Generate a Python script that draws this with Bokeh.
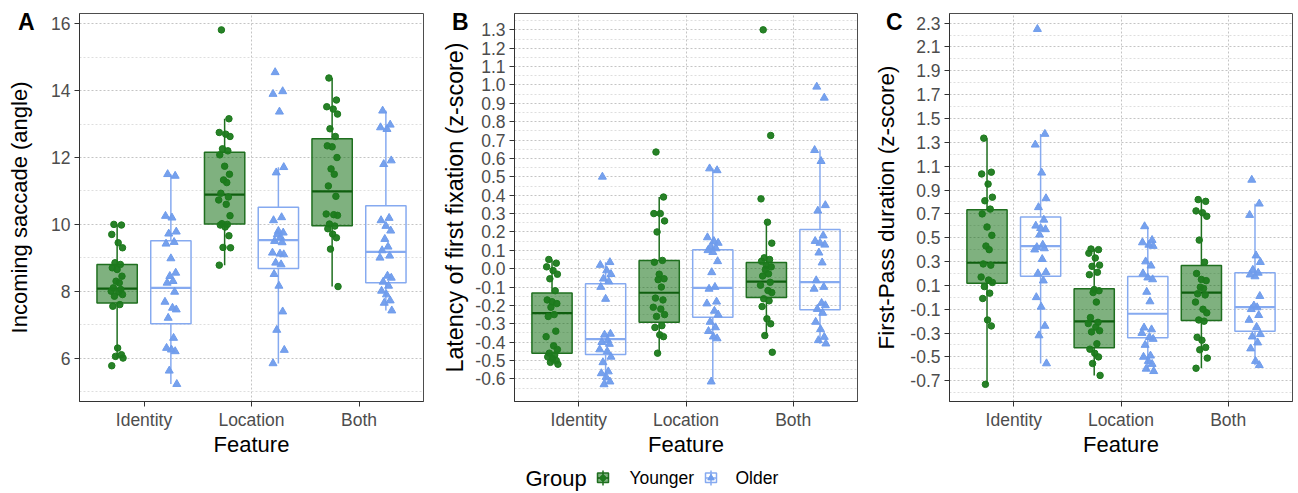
import numpy as np
from bokeh.plotting import figure
from bokeh.models import Range1d, FixedTicker, NumeralTickFormatter, ColumnDataSource, LinearAxis
from bokeh.layouts import column, row
from bokeh.embed import file_html
from bokeh.resources import INLINE
from bokeh.core.properties import value

FEATURES = ["Identity", "Location", "Both"]
GROUPS = ["Younger", "Older"]

# ---------------- Panel A: Incoming saccade (angle) ----------------
A_Y_ID = [10.0, 9.98, 9.7, 9.45, 9.3, 8.85, 8.8, 8.7, 8.65, 8.45, 8.3, 8.25, 8.1, 8.05, 8.0, 7.98, 7.9, 7.85, 7.6, 7.55, 6.3, 6.1, 6.05, 6.0, 5.77]
A_O_ID = [11.5, 11.45, 10.25, 10.2, 9.78, 9.72, 9.47, 9.42, 8.98, 8.55, 8.45, 8.3, 8.25, 7.98, 7.68, 7.5, 7.45, 7.2, 6.6, 6.3, 6.25, 6.2, 5.62, 5.22]
A_Y_LOC = [15.82, 13.16, 12.75, 12.7, 12.63, 12.26, 12.2, 12.08, 11.74, 11.5, 11.33, 11.25, 10.93, 10.82, 10.73, 10.6, 10.26, 10.02, 10.0, 9.98, 9.92, 9.66, 9.31, 9.3, 8.78]
A_O_LOC = [14.55, 13.98, 13.9, 13.37, 11.71, 11.55, 10.21, 10.12, 9.8, 9.75, 9.7, 9.62, 9.5, 9.46, 9.15, 9.12, 9.1, 8.85, 8.8, 8.51, 8.16, 7.39, 6.84, 6.24, 5.84]
A_Y_BOTH = [14.38, 13.72, 13.52, 13.45, 13.3, 12.86, 12.63, 12.35, 12.32, 12.0, 11.66, 11.5, 11.15, 10.84, 10.31, 10.29, 10.27, 10.01, 9.95, 9.87, 9.71, 9.6, 9.26, 8.14]
A_O_BOTH = [13.4, 12.98, 12.9, 12.85, 11.91, 11.8, 10.19, 10.12, 9.95, 9.81, 9.56, 9.33, 9.22, 9.06, 9.0, 8.46, 8.4, 8.28, 8.16, 8.01, 7.9, 7.72, 7.65, 7.42]
A_Y_Q1 = [7.65, 10.01, 9.96]
A_Y_MED = [8.08, 10.89, 10.99]
A_Y_Q3 = [8.8, 12.16, 12.56]
A_Y_LO = [6.0, 8.78, 8.14]
A_Y_HI = [10.0, 13.16, 14.38]
A_O_Q1 = [7.03, 8.68, 8.25]
A_O_MED = [8.1, 9.53, 9.18]
A_O_Q3 = [9.51, 10.51, 10.56]
A_O_LO = [5.22, 5.84, 7.42]
A_O_HI = [11.5, 11.71, 13.4]
A_TICKS = [6, 8, 10, 12, 14, 16]
A_MINOR = [5, 7, 9, 11, 13, 15]

# ---------------- Panel B: Latency of first fixation ----------------
B_Y_ID = [0.05, 0.03, 0.01, -0.01, -0.03, -0.055, -0.12, -0.17, -0.18, -0.19, -0.21, -0.25, -0.26, -0.34, -0.37, -0.42, -0.44, -0.46, -0.47, -0.48, -0.49, -0.5, -0.51, -0.52]
B_O_ID = [0.5, 0.035, 0.02, -0.01, -0.03, -0.055, -0.07, -0.1, -0.165, -0.355, -0.36, -0.39, -0.4, -0.41, -0.44, -0.45, -0.48, -0.51, -0.56, -0.57, -0.59, -0.615, -0.63]
B_Y_LOC = [0.635, 0.39, 0.3, 0.3, 0.26, 0.2, 0.045, 0.035, -0.03, -0.055, -0.06, -0.1, -0.16, -0.17, -0.21, -0.22, -0.25, -0.26, -0.31, -0.32, -0.36, -0.37, -0.46]
B_O_LOC = [0.545, 0.535, 0.17, 0.15, 0.14, 0.12, 0.11, 0.1, 0.09, 0.04, -0.02, -0.1, -0.11, -0.18, -0.19, -0.23, -0.25, -0.29, -0.32, -0.34, -0.37, -0.38, -0.615]
B_Y_BOTH = [1.3, 0.725, 0.38, 0.253, 0.139, 0.059, 0.05, 0.04, 0.017, 0.01, -0.005, -0.028, -0.04, -0.074, -0.09, -0.119, -0.13, -0.164, -0.175, -0.206, -0.273, -0.3, -0.364, -0.455]
B_O_BOTH = [0.99, 0.93, 0.645, 0.585, 0.345, 0.315, 0.18, 0.15, 0.14, 0.13, 0.087, 0.033, -0.064, -0.1, -0.11, -0.187, -0.2, -0.22, -0.241, -0.29, -0.33, -0.372, -0.39, -0.408]
B_Y_Q1 = [-0.46, -0.291, -0.157]
B_Y_MED = [-0.242, -0.131, -0.071]
B_Y_Q3 = [-0.133, 0.044, 0.034]
B_Y_LO = [-0.52, -0.46, -0.364]
B_Y_HI = [0.05, 0.39, 0.253]
B_O_Q1 = [-0.467, -0.264, -0.224]
B_O_MED = [-0.384, -0.104, -0.073]
B_O_Q3 = [-0.082, 0.103, 0.213]
B_O_LO = [-0.63, -0.615, -0.408]
B_O_HI = [0.035, 0.545, 0.645]
B_TICKS = [-0.6, -0.5, -0.4, -0.3, -0.2, -0.1, 0.0, 0.1, 0.2, 0.3, 0.4, 0.5, 0.6, 0.7, 0.8, 0.9, 1.0, 1.1, 1.2, 1.3]
B_MINOR = [-0.65, -0.55, -0.45, -0.35, -0.25, -0.15, -0.05, 0.05, 0.15, 0.25, 0.35, 0.45, 0.55, 0.65, 0.75, 0.85, 0.95, 1.05, 1.15, 1.25, 1.35]

# ---------------- Panel C: First-Pass duration ----------------
C_Y_ID = [1.335, 1.05, 1.035, 0.95, 0.84, 0.81, 0.74, 0.7, 0.59, 0.52, 0.43, 0.4, 0.28, 0.27, 0.17, 0.145, 0.125, 0.09, 0.035, -0.01, -0.19, -0.24, -0.73]
C_O_ID = [2.25, 1.37, 1.28, 1.045, 0.83, 0.755, 0.65, 0.6, 0.58, 0.57, 0.525, 0.44, 0.42, 0.41, 0.4, 0.32, 0.21, 0.2, 0.14, 0.0, -0.08, -0.24, -0.32, -0.555]
C_Y_LOC = [0.405, 0.4, 0.37, 0.33, 0.27, 0.26, 0.21, 0.19, 0.065, 0.055, 0.04, -0.04, -0.17, -0.21, -0.22, -0.25, -0.28, -0.29, -0.39, -0.435, -0.47, -0.5, -0.555, -0.655]
C_O_LOC = [0.595, 0.48, 0.46, 0.44, 0.43, 0.3, 0.265, 0.2, 0.165, 0.15, 0.045, -0.035, -0.255, -0.27, -0.3, -0.335, -0.35, -0.4, -0.49, -0.5, -0.535, -0.56, -0.6, -0.62]
C_Y_BOTH = [0.82, 0.805, 0.725, 0.71, 0.68, 0.48, 0.295, 0.2, 0.15, 0.14, 0.085, 0.075, 0.03, 0.02, -0.04, -0.1, -0.13, -0.19, -0.2, -0.335, -0.36, -0.42, -0.44, -0.51, -0.595]
C_O_BOTH = [0.985, 0.785, 0.69, 0.35, 0.295, 0.23, 0.205, 0.19, 0.175, 0.01, -0.07, -0.085, -0.1, -0.15, -0.19, -0.25, -0.31, -0.33, -0.38, -0.43, -0.535, -0.57]
C_Y_Q1 = [0.119, -0.423, -0.195]
C_Y_MED = [0.29, -0.202, 0.039]
C_Y_Q3 = [0.735, 0.072, 0.266]
C_Y_LO = [-0.73, -0.655, -0.595]
C_Y_HI = [1.335, 0.405, 0.82]
C_O_Q1 = [0.177, -0.339, -0.284]
C_O_MED = [0.429, -0.138, -0.083]
C_O_Q3 = [0.673, 0.175, 0.206]
C_O_LO = [-0.555, -0.62, -0.57]
C_O_HI = [1.37, 0.595, 0.785]
C_TICKS = [-0.7, -0.5, -0.3, -0.1, 0.1, 0.3, 0.5, 0.7, 0.9, 1.1, 1.3, 1.5, 1.7, 1.9, 2.1, 2.3]
C_MINOR = [-0.8, -0.6, -0.4, -0.2, 0.0, 0.2, 0.4, 0.6, 0.8, 1.0, 1.2, 1.4, 1.6, 1.8, 2.0, 2.2]

# deterministic horizontal jitter pattern (visual spread only)
JITTER = [-0.03, 0.04, -0.05, 0.01, 0.05, -0.02, 0.03, -0.045, 0.0, 0.045, -0.01, 0.02,
          -0.035, 0.035, -0.055, 0.015, 0.05, -0.025, 0.025, -0.04, 0.005, 0.04, -0.015, 0.055, -0.05]

FONT = "Liberation Sans"
GREEN_PT = "#1c7a1c"
GREEN_LINE = "#1f6f1f"
BLUE_PT = "#6f9cec"
BLUE_LINE = "#86aaf0"
DODGE = 0.25
BOXW = 0.375


def add_group(p, series, q1, med, q3, lo, hi, offset, kind):
    xs = [i + 1 + offset for i in range(3)]
    lc = GREEN_LINE if kind == "y" else BLUE_LINE
    p.segment(x0=xs, x1=xs, y0=q3, y1=hi, line_color=lc, line_width=1.5)
    p.segment(x0=xs, x1=xs, y0=lo, y1=q1, line_color=lc, line_width=1.5)
    if kind == "y":
        p.quad(left=[x - BOXW / 2 for x in xs], right=[x + BOXW / 2 for x in xs], bottom=q1, top=q3,
               fill_color="#006400", fill_alpha=0.5, line_color=GREEN_LINE, line_width=1.5)
        p.segment(x0=[x - BOXW / 2 for x in xs], x1=[x + BOXW / 2 for x in xs], y0=med, y1=med,
                  line_color="#0f5f0f", line_width=2.2)
    else:
        p.quad(left=[x - BOXW / 2 for x in xs], right=[x + BOXW / 2 for x in xs], bottom=q1, top=q3,
               fill_color="white", fill_alpha=0.0, line_color=BLUE_LINE, line_width=1.5)
        p.segment(x0=[x - BOXW / 2 for x in xs], x1=[x + BOXW / 2 for x in xs], y0=med, y1=med,
                  line_color=BLUE_LINE, line_width=2.2)
    px, py = [], []
    for i, vals in enumerate(series):
        for j, v in enumerate(vals):
            px.append(i + 1 + offset + JITTER[j % len(JITTER)])
            py.append(v)
    src = ColumnDataSource(dict(x=px, y=py))
    if kind == "y":
        p.scatter("x", "y", source=src, marker="circle", size=6.5, fill_color=GREEN_PT,
                  line_color=GREEN_PT, fill_alpha=0.95)
    else:
        p.scatter("x", "y", source=src, marker="triangle", size=8, fill_color=BLUE_PT,
                  line_color=BLUE_PT, fill_alpha=0.95)


def make_panel(letter, letter_y, letter_standoff, ytitle, title_standoff, title_size, yr, ticks, minor, fmt,
               ys, os_, ystats, ostats, vgrid, width, mbl, mbr):
    p = figure(width=width, height=460, x_range=Range1d(0.4, 3.6), y_range=Range1d(*yr),
               output_backend="svg", toolbar_location=None,
               min_border_left=mbl, min_border_right=mbr, min_border_top=13, min_border_bottom=59)
    p.background_fill_color = "white"
    p.outline_line_color = "#4d4d4d"
    p.outline_line_width = 1

    p.xaxis.ticker = FixedTicker(ticks=[1, 2, 3])
    p.xaxis.major_label_overrides = {1: "Identity", 2: "Location", 3: "Both"}
    p.yaxis.ticker = FixedTicker(ticks=ticks, minor_ticks=minor)
    if fmt:
        p.yaxis.formatter = NumeralTickFormatter(format=fmt)
    for ax in (p.xaxis[0], p.yaxis[0]):
        ax.axis_line_color = "#333333"
        ax.axis_line_width = 1
        ax.major_tick_line_color = "#333333"
        ax.major_tick_in = 0
        ax.major_tick_out = 5
        ax.minor_tick_line_color = None
        ax.major_label_text_font = FONT
        ax.major_label_text_font_size = "17.5px"
        ax.major_label_text_color = "#4d4d4d"
        ax.axis_label_text_font = FONT
        ax.axis_label_text_font_size = "22px"
        ax.axis_label_text_font_style = "normal"
        ax.axis_label_text_color = "black"
    p.xaxis.axis_label = "Feature"
    p.xaxis.major_label_standoff = 3
    p.xaxis.axis_label_standoff = -1
    p.yaxis.major_label_standoff = 4

    # outer left axis: carries the panel letter (as its single tick label) and the y title
    lax = LinearAxis(ticker=FixedTicker(ticks=[letter_y]), major_label_overrides={letter_y: letter},
                     axis_line_color=None, major_tick_line_color=None, minor_tick_line_color=None,
                     major_tick_in=0, major_tick_out=0, major_label_standoff=letter_standoff,
                     major_label_text_font=FONT, major_label_text_font_size="23px",
                     major_label_text_font_style="bold", major_label_text_color="black",
                     axis_label=ytitle, axis_label_standoff=title_standoff,
                     axis_label_text_font=FONT, axis_label_text_font_size=title_size,
                     axis_label_text_font_style="normal", axis_label_text_color="black")
    p.add_layout(lax, "left")

    p.xgrid.ticker = FixedTicker(ticks=vgrid)
    p.xgrid.grid_line_color = "#c4c4c4"
    p.xgrid.grid_line_dash = "2 2"
    p.ygrid.grid_line_color = "#c4c4c4"
    p.ygrid.grid_line_dash = "2 2"
    p.ygrid.minor_grid_line_color = "#dedede"
    p.ygrid.minor_grid_line_dash = "2 2"

    add_group(p, ys, *ystats, -DODGE, "y")
    add_group(p, os_, *ostats, DODGE, "o")
    return p


pA = make_panel("A", 16.06, 14, "Incoming saccade (angle)", -17, "22px", (4.70, 16.31), A_TICKS, A_MINOR, None,
                [A_Y_ID, A_Y_LOC, A_Y_BOTH], [A_O_ID, A_O_LOC, A_O_BOTH],
                (A_Y_Q1, A_Y_MED, A_Y_Q3, A_Y_LO, A_Y_HI), (A_O_Q1, A_O_MED, A_O_Q3, A_O_LO, A_O_HI),
                [2], 430, 79, 7)
pB = make_panel("B", 1.343, 4, "Latency of first fixation (z-score)", -19, "23.3px", (-0.723, 1.389), B_TICKS, B_MINOR, "0.0",
                [B_Y_ID, B_Y_LOC, B_Y_BOTH], [B_O_ID, B_O_LOC, B_O_BOTH],
                (B_Y_Q1, B_Y_MED, B_Y_Q3, B_Y_LO, B_Y_HI), (B_O_Q1, B_O_MED, B_O_Q3, B_O_LO, B_O_HI),
                [1, 2, 3], 432, 84, 5)
pC = make_panel("C", 2.308, 5, "First-Pass duration (z-score)", -16, "22.5px", (-0.874, 2.381), C_TICKS, C_MINOR, "0.0",
                [C_Y_ID, C_Y_LOC, C_Y_BOTH], [C_O_ID, C_O_LOC, C_O_BOTH],
                (C_Y_Q1, C_Y_MED, C_Y_Q3, C_Y_LO, C_Y_HI), (C_O_Q1, C_O_MED, C_O_Q3, C_O_LO, C_O_HI),
                [1, 2, 3], 436, 87, 6)

# ---------------- Legend strip ----------------
leg = figure(width=1298, height=33, x_range=Range1d(0, 1298), y_range=Range1d(0, 33),
             output_backend="svg", toolbar_location=None, min_border=0, title=None,
             x_axis_location=None, y_axis_location=None)
leg.grid.visible = False
leg.outline_line_color = None
leg.text(x=[525], y=[15], text=["Group"], text_font=value(FONT), text_font_size="22px",
         text_baseline="alphabetic", text_color="black")
# Younger key
leg.segment(x0=[602.5], x1=[602.5], y0=[8], y1=[23], line_color=GREEN_LINE, line_width=1.5)
leg.quad(left=[597], right=[608], bottom=[11], top=[20.5], fill_color="#006400", fill_alpha=0.5,
         line_color=GREEN_LINE, line_width=1.5)
leg.segment(x0=[597], x1=[608], y0=[15.5], y1=[15.5], line_color="#0f5f0f", line_width=1.5)
leg.scatter(x=[602.5], y=[15.5], marker="circle", size=5.5, fill_color=GREEN_PT, line_color=GREEN_PT)
leg.text(x=[629], y=[16], text=["Younger"], text_font=value(FONT), text_font_size="17.5px",
         text_baseline="alphabetic", text_color="black")
# Older key
leg.segment(x0=[710.5], x1=[710.5], y0=[8], y1=[23], line_color=BLUE_LINE, line_width=1.5)
leg.quad(left=[705], right=[716], bottom=[11], top=[20.5], fill_alpha=0.0,
         line_color=BLUE_LINE, line_width=1.5)
leg.segment(x0=[705], x1=[716], y0=[15.5], y1=[15.5], line_color=BLUE_LINE, line_width=1.5)
leg.scatter(x=[710.5], y=[15.5], marker="triangle", size=6.5, fill_color=BLUE_PT, line_color=BLUE_PT)
leg.text(x=[735], y=[16], text=["Older"], text_font=value(FONT), text_font_size="17.5px",
         text_baseline="alphabetic", text_color="black")

layout = column(row(pA, pB, pC, spacing=0), leg, spacing=0)
open("out.html", "w").write(file_html(layout, INLINE))
